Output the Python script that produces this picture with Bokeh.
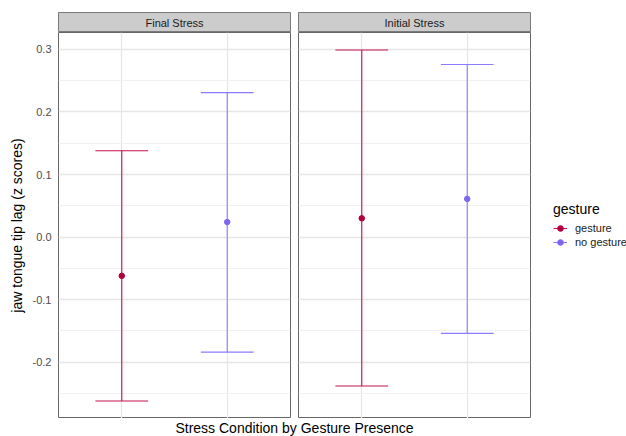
from bokeh.plotting import figure
from bokeh.layouts import row, column
from bokeh.models import (Range1d, FixedTicker, PrintfTickFormatter, Label, Legend,
                          LegendItem, ColumnDataSource)
from bokeh.embed import file_html
from bokeh.resources import INLINE

# ---------------- data ----------------
facets = ["Final Stress", "Initial Stress"]
groups = ["gesture", "no gesture"]
final_mean = [-0.062, 0.024]
final_lower = [-0.262, -0.184]
final_upper = [0.138, 0.231]
initial_mean = [0.030, 0.061]
initial_lower = [-0.238, -0.154]
initial_upper = [0.299, 0.276]
y_ticks = [-0.2, -0.1, 0.0, 0.1, 0.2, 0.3]

# ---------------- style ----------------
FONT = "Liberation Sans"
POINT_COLORS = ["#b0003a", "#7b68ee"]
LINE_COLORS = ["#c4124a", "#8a7bff"]
CAP_WIDTH = 0.5
FRAME_W, FRAME_H = 232, 386
LW = 1.1

all_lo = min(final_lower + initial_lower)
all_hi = max(final_upper + initial_upper)
pad = (all_hi - all_lo) * 0.05
Y0, Y1 = all_lo - pad, all_hi + pad
minor_ticks = [t - 0.05 for t in y_ticks] + [y_ticks[-1] + 0.05]
minor_ticks = [m for m in minor_ticks if Y0 <= m <= Y1]
xs = [i + 1 for i in range(len(groups))]


def strip(title, left):
    s = figure(frame_width=FRAME_W, frame_height=20, min_border_left=left,
               min_border_right=4, min_border_top=12, min_border_bottom=0,
               x_axis_location=None, y_axis_location=None,
               x_range=Range1d(0, 1), y_range=Range1d(0, 1),
               background_fill_color="#cccccc", outline_line_color="#7a7a7a",
               outline_line_width=1, output_backend="svg", toolbar_location=None)
    s.grid.grid_line_color = None
    s.add_layout(Label(x=0.5, y=0.5, text=title, text_align="center",
                       text_baseline="middle", text_font=FONT,
                       text_font_size="11px", text_color="#1a1a1a"))
    return s


def panel(mean, lo, hi, left, show_y):
    p = figure(frame_width=FRAME_W, frame_height=FRAME_H, min_border_left=left,
               min_border_right=4, min_border_top=0, min_border_bottom=0,
               x_axis_location=None, y_axis_location="left" if show_y else None,
               x_range=Range1d(0.4, len(groups) + 0.6), y_range=Range1d(Y0, Y1),
               outline_line_color="#666666", outline_line_width=1,
               output_backend="svg", toolbar_location=None)
    p.xgrid.ticker = FixedTicker(ticks=xs)
    p.xgrid.grid_line_color = "#e6e6e6"
    p.xgrid.grid_line_width = 1.3
    p.ygrid.ticker = FixedTicker(ticks=y_ticks, minor_ticks=minor_ticks)
    p.ygrid.grid_line_color = "#e6e6e6"
    p.ygrid.grid_line_width = 1.3
    p.ygrid.minor_grid_line_color = "#f1f1f1"
    p.ygrid.minor_grid_line_width = 1
    if show_y:
        ax = p.yaxis[0]
        ax.ticker = FixedTicker(ticks=y_ticks)
        ax.formatter = PrintfTickFormatter(format="%.1f")
        ax.axis_line_color = None
        ax.major_tick_line_color = None
        ax.minor_tick_line_color = None
        ax.major_tick_out = 0
        ax.major_tick_in = 0
        ax.major_label_standoff = 7
        ax.major_label_text_font = FONT
        ax.major_label_text_font_size = "11px"
        ax.major_label_text_color = "#4d4d4d"
        ax.axis_label = "jaw tongue tip lag (z scores)"
        ax.axis_label_text_font = FONT
        ax.axis_label_text_font_size = "14px"
        ax.axis_label_text_font_style = "normal"
        ax.axis_label_text_color = "#000000"
        ax.axis_label_standoff = 5
    src = ColumnDataSource(dict(
        x=xs, mean=mean, lo=lo, hi=hi,
        cl=[x - CAP_WIDTH / 2 for x in xs], cr=[x + CAP_WIDTH / 2 for x in xs],
        lc=LINE_COLORS, pc=POINT_COLORS))
    bar = p.segment(x0="x", y0="lo", x1="x", y1="hi", line_color="lc", line_width=LW, source=src)
    p.segment(x0="cl", y0="hi", x1="cr", y1="hi", line_color="lc", line_width=LW, source=src)
    p.segment(x0="cl", y0="lo", x1="cr", y1="lo", line_color="lc", line_width=LW, source=src)
    pts = p.scatter(x="x", y="mean", size=5.5, fill_color="pc", line_color="pc", source=src)
    return p, bar, pts


s1 = strip(facets[0], 58)
p1, _, _ = panel(final_mean, final_lower, final_upper, 58, True)
s2 = strip(facets[1], 4)
p2, bar2, pts2 = panel(initial_mean, initial_lower, initial_upper, 4, False)

items = [LegendItem(label=g, renderers=[bar2, pts2], index=i) for i, g in enumerate(groups)]
legend = Legend(items=items, title="gesture", location="center_left",
                title_text_font=FONT, title_text_font_size="14px",
                title_text_font_style="normal", title_text_color="#000000",
                title_standoff=4,
                label_text_font=FONT, label_text_font_size="11px",
                label_text_color="#1a1a1a",
                glyph_width=14, glyph_height=14, label_standoff=8,
                label_height=14, padding=0, margin=23, spacing=0,
                border_line_color=None, background_fill_alpha=0)
p2.add_layout(legend, "right")

# x-axis title figure
xt = figure(width=626, height=18, min_border_left=0, min_border_right=0,
            min_border_top=0, min_border_bottom=0,
            x_axis_location=None, y_axis_location=None,
            x_range=Range1d(0, 1), y_range=Range1d(0, 1),
            outline_line_color=None, output_backend="svg", toolbar_location=None)
xt.grid.grid_line_color = None
xt.add_layout(Label(x=294 / 626, y=0.04, text="Stress Condition by Gesture Presence",
                    text_align="center", text_baseline="bottom", text_font=FONT,
                    text_font_size="14px", text_color="#000000"))

layout = column(row(column(s1, p1), column(s2, p2)), xt)

open("out.html", "w").write(file_html(layout, INLINE))
